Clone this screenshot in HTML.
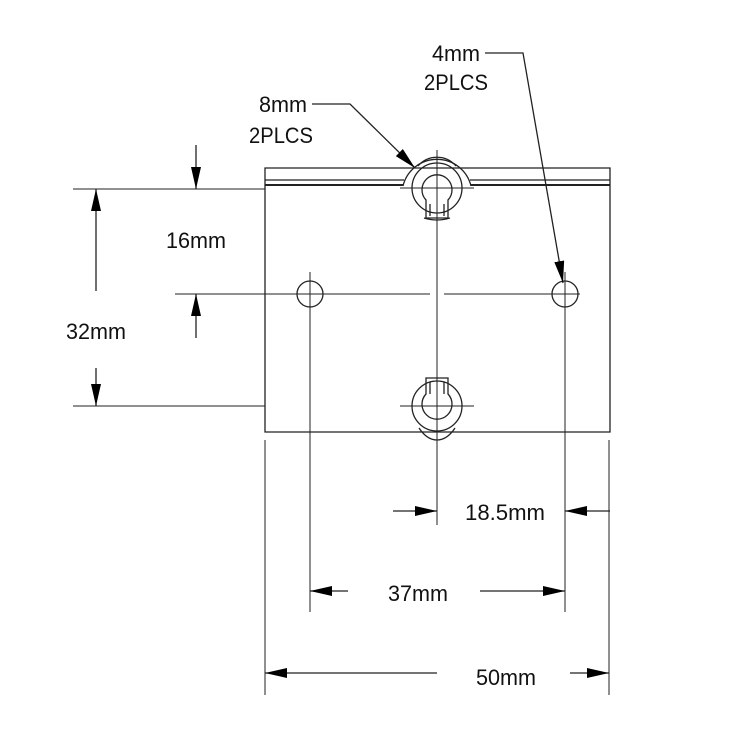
<!DOCTYPE html>
<html><head><style>body{margin:0;background:#fff}svg{display:block}text{font-family:"Liberation Sans",sans-serif;font-size:22px;fill:#111}</style></head>
<body>
<svg width="750" height="750" viewBox="0 0 750 750" xmlns="http://www.w3.org/2000/svg">
<defs>
<marker id="a" viewBox="0 0 22 10" refX="22" refY="5" markerWidth="22" markerHeight="10" markerUnits="userSpaceOnUse" orient="auto"><path d="M0,0L22,5L0,10z" fill="#000"/></marker>
</defs>
<g stroke="#222" stroke-width="1.3" fill="none">
<path d="M265,189V432H610V168H265V189"/>
<path d="M265,180H404M470,180H610"/>
<path d="M265,185H403M471,185H610" stroke-width="2"/>
<path d="M403,186A35,35 0 0 1 471,186"/>
<!-- top keyhole -->
<circle cx="437" cy="188" r="25"/>
<path d="M426,200A15,15 0 1 1 448,200V218H426Z"/>
<path d="M430,204V216M444,204V216"/>
<path d="M424,218Q437,222 450,218"/>
<path d="M418,166A25,25 0 0 1 456,166"/>
<!-- bottom keyhole -->
<circle cx="437" cy="406" r="25"/>
<path d="M426,394A15,15 0 1 0 448,394V378H426Z"/>
<path d="M430,382V394M444,382V394"/>
<path d="M419,428Q427,440 437,440Q447,440 455,428"/>
<!-- holes -->
<circle cx="310" cy="294" r="13"/>
<circle cx="565" cy="294" r="13"/>
<path d="M437,150V525M175,294H430M444,294H580M310,272V612M565,272V612M400,188H474M400,406H474" stroke-width="1"/>
<path d="M73,189H265M73,406H265M265,440V695M609,440V695" stroke-width="1"/>
<path d="M196,145V189" marker-end="url(#a)"/>
<path d="M196,338V294" marker-end="url(#a)"/>
<path d="M96,291V189" marker-end="url(#a)"/>
<path d="M96,368V406" marker-end="url(#a)"/>
<path d="M393,511H437" marker-end="url(#a)"/>
<path d="M610,511H565" marker-end="url(#a)"/>
<path d="M348,591H310" marker-end="url(#a)"/>
<path d="M480,591H565" marker-end="url(#a)"/>
<path d="M437,673H265" marker-end="url(#a)"/>
<path d="M570,673H609" marker-end="url(#a)"/>
<path d="M312,104H350L415,168" marker-end="url(#a)"/>
<path d="M485,53H523L563,283" marker-end="url(#a)"/>
</g>
<text x="196" y="248" text-anchor="middle" textLength="60" lengthAdjust="spacingAndGlyphs">16mm</text>
<text x="96" y="339" text-anchor="middle" textLength="60" lengthAdjust="spacingAndGlyphs">32mm</text>
<text x="505" y="520" text-anchor="middle" textLength="80" lengthAdjust="spacingAndGlyphs">18.5mm</text>
<text x="418" y="601" text-anchor="middle" textLength="60" lengthAdjust="spacingAndGlyphs">37mm</text>
<text x="506" y="685" text-anchor="middle" textLength="60" lengthAdjust="spacingAndGlyphs">50mm</text>
<text x="456" y="61" text-anchor="middle" textLength="48" lengthAdjust="spacingAndGlyphs">4mm</text>
<text x="456" y="90" text-anchor="middle" textLength="64" lengthAdjust="spacingAndGlyphs">2PLCS</text>
<text x="283" y="112" text-anchor="middle" textLength="48" lengthAdjust="spacingAndGlyphs">8mm</text>
<text x="281" y="143" text-anchor="middle" textLength="64" lengthAdjust="spacingAndGlyphs">2PLCS</text>
</svg>
</body></html>
